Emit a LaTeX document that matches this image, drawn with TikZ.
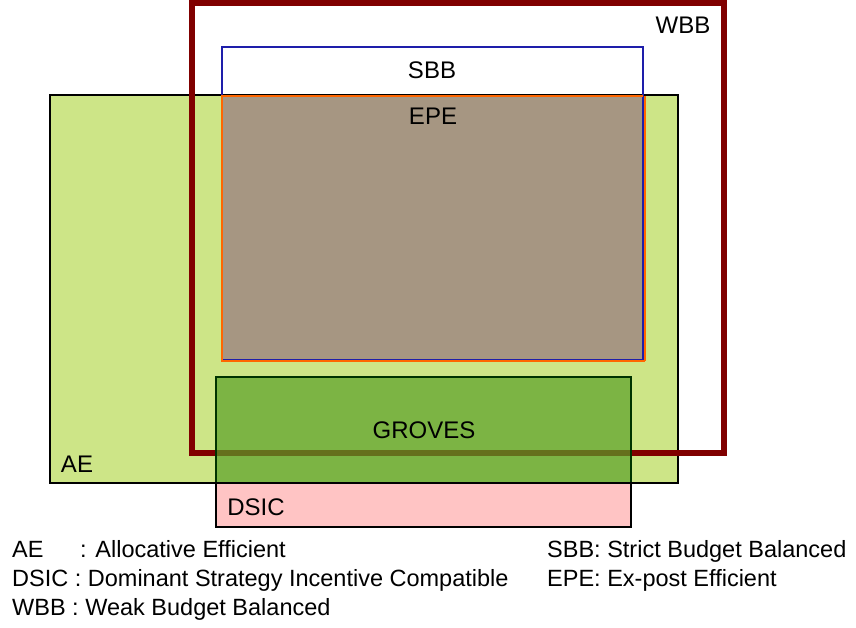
\documentclass[tikz,border=0pt]{standalone}
\usepackage{fontspec}
\setmainfont{Liberation Sans}
\definecolor{wbbred}{RGB}{128,0,0}
\definecolor{sbbblue}{RGB}{30,30,170}
\definecolor{aefill}{RGB}{205,229,135}
\definecolor{epefill}{RGB}{166,150,130}
\definecolor{epeorange}{RGB}{255,102,0}
\definecolor{grovesfill}{RGB}{90,160,40}
\definecolor{dsicfill}{RGB}{255,196,196}
\tikzset{
  lbl/.style={inner sep=0pt, font=\fontsize{24}{28}\selectfont},
  leg/.style={inner sep=0pt, anchor=base west, font=\fontsize{23.5}{28}\selectfont},
}
\begin{document}
\begin{tikzpicture}[x=1pt,y=-1pt]
\useasboundingbox (0,0) rectangle (856,628);
% AE
\draw[fill=aefill, line width=2pt] (50,95) rectangle (678,483);
% EPE fill
\fill[epefill] (222,96) rectangle (645,361);
% SBB
\draw[sbbblue, line width=1.5pt] (222,47) rectangle (643,360);
% EPE border
\draw[epeorange, line width=2.5pt] (643,96) -- (222,96) -- (222,361) -- (645,361);
\draw[epeorange, line width=1.2pt] (645,96) -- (645,361);
% WBB
\draw[wbbred, line width=5.5pt] (192,3) rectangle (724,453);
% GROVES
\fill[grovesfill, opacity=0.7] (216,377) rectangle (631,483);
\draw[black!80!green, line width=2pt] (216,377) rectangle (631,483);
% DSIC
\draw[fill=dsicfill, line width=2.5pt] (216,483) rectangle (631,527);
% labels
\node[lbl] (wbb) at (683,25) {WBB};
\node[lbl] (sbb) at (432,70) {SBB};
\node[lbl] (epe) at (433,116) {EPE};
\node[lbl] (groves) at (424,430) {GROVES};
\node[lbl] (ae) at (77,464) {AE};
\node[lbl] (dsic) at (256,507) {DSIC};
% legend
\node[leg] (l1a) at (12,557) {AE};
\node[leg] (l1b) at (80,557) {: Allocative Efficient};
\node[leg] (l2) at (12,586) {DSIC : Dominant Strategy Incentive Compatible};
\node[leg] (l3) at (12,615) {WBB : Weak Budget Balanced};
\node[leg] (r1) at (547,557) {SBB: Strict Budget Balanced};
\node[leg] (r2) at (547,586) {EPE: Ex-post Efficient};
\end{tikzpicture}
\end{document}
